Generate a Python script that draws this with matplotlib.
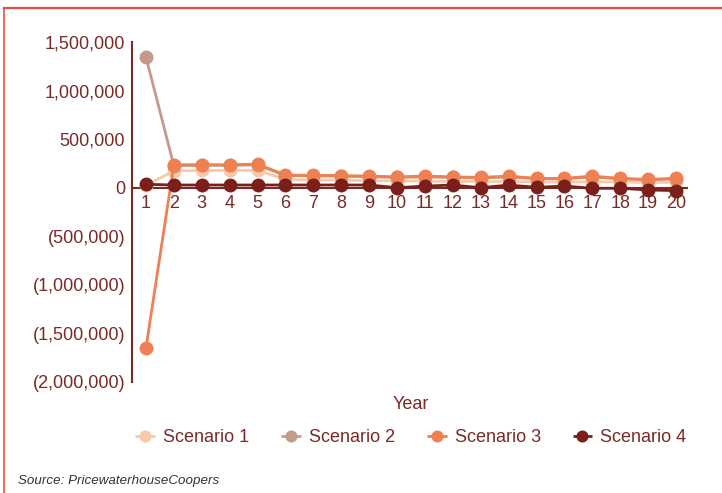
import numpy as np
import matplotlib
matplotlib.use("Agg")
import matplotlib.pyplot as plt
from matplotlib.lines import Line2D
from matplotlib.ticker import FuncFormatter

plt.rcParams['font.family'] = ['Liberation Sans', 'DejaVu Sans']

years = list(range(1, 21))
scenario1 = [25000, 172000, 178000, 178000, 178000, 85000, 80000, 78000, 72000, 70000,
             68000, 66000, 64000, 64000, 60000, 60000, 60000, 58000, 55000, 55000]
scenario2 = [1345000, 228000, 230000, 230000, 235000, 125000, 122000, 118000, 112000, 106000,
             110000, 106000, 100000, 110000, 92000, 92000, 110000, 90000, 82000, 90000]
scenario3 = [-1650000, 235000, 238000, 236000, 243000, 130000, 128000, 125000, 120000, 112000,
             120000, 112000, 106000, 120000, 96000, 96000, 120000, 96000, 86000, 96000]
scenario4 = [35000, 28000, 28000, 28000, 28000, 28000, 28000, 28000, 28000, 0,
             17000, 27000, 0, 27000, 4000, 17000, -6000, -6000, -23000, -30000]

names = ['Scenario 1', 'Scenario 2', 'Scenario 3', 'Scenario 4']
colors = ['#f9c8a8', '#c49a88', '#ef8052', '#7a1f1c']
text_col = '#7a2a26'

fig = plt.figure(figsize=(7.22, 4.93), dpi=100)
ax = fig.add_axes([132 / 722, 1 - 382 / 493, 558 / 722, 340 / 493])

for vals, name, c in zip([scenario1, scenario2, scenario3, scenario4], names, colors):
    ax.plot(years, vals, color=c, lw=2, marker='o', markersize=9, label=name,
            solid_capstyle='butt')

ax.set_xlim(0.5, 20.5)
ax.set_ylim(-2000000, 1500000)
ax.set_yticks(np.arange(-2000000, 1500001, 500000))

def fmt(v, pos):
    if v < 0:
        return '({:,.0f})'.format(-v)
    return '{:,.0f}'.format(v)

ax.yaxis.set_major_formatter(FuncFormatter(fmt))
ax.set_xticks(years)

for s in ['top', 'right']:
    ax.spines[s].set_visible(False)
ax.spines['bottom'].set_position(('data', 0))
ax.spines['bottom'].set_bounds(0.5, 20.4)
ax.spines['bottom'].set_color(text_col)
ax.spines['bottom'].set_linewidth(1.5)
ax.spines['bottom'].set_zorder(0.5)
ax.spines['left'].set_color(text_col)
ax.spines['left'].set_linewidth(1.5)

ax.tick_params(axis='x', length=0, pad=5, labelsize=13, labelcolor=text_col)
ax.tick_params(axis='y', length=0, pad=5, labelsize=13, labelcolor=text_col)

ax.set_xlabel('Year', color=text_col, fontsize=13)
ax.xaxis.set_label_coords(0.5, -0.04)

leg = ax.legend(loc='upper center', bbox_to_anchor=(0.5, -0.09), ncol=4, frameon=False,
                fontsize=13, handlelength=1.1, handletextpad=0.45, columnspacing=1.75,
                markerscale=0.85)
for t in leg.get_texts():
    t.set_color(text_col)

fig.text(18 / 722, 1 - 481 / 493, 'Source: PricewaterhouseCoopers', fontsize=9.6,
         style='italic', color='#333333', va='center')

frame_col = '#e4513b'
fig.add_artist(Line2D([4 / 722, 1], [1 - 8 / 493, 1 - 8 / 493], color=frame_col, lw=1.6))
fig.add_artist(Line2D([4 / 722, 4 / 722], [0, 1 - 8 / 493], color=frame_col, lw=1.2))

fig.savefig('out.png', dpi=100)
